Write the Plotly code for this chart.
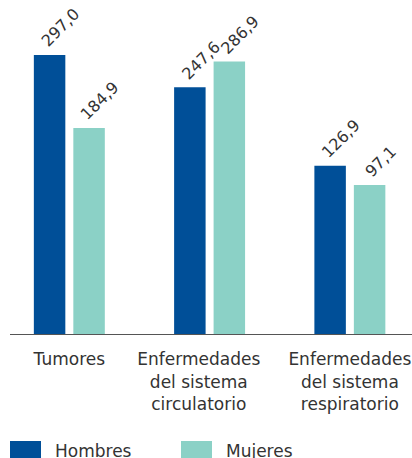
import plotly.graph_objects as go

NB = "\u00a0" * 4
categories = ["Tumores",
              f"Enfermedades{NB}<br>del sistema{NB}<br>circulatorio{NB}",
              "Enfermedades<br>del sistema<br>respiratorio"]
hombres = [297.0, 247.6, 126.9]
mujeres = [184.9, 286.9, 97.1]
series_names = ["Hombres", "Mujeres"]
colors = ["#004f98", "#8bd1c6"]

Y0 = -131.6   # value at the baseline of the chart
Y1 = 366.1

def fmt(v):
    return f"{v:.1f}".replace(".", ",")

FONT = "DejaVu Sans"
TXT = "#333333"

fig = go.Figure()
for name, vals, col in zip(series_names, [hombres, mujeres], colors):
    fig.add_trace(go.Bar(
        x=categories, y=[v - Y0 for v in vals], base=Y0, name=name,
        marker=dict(color=col, line=dict(width=0)),
        showlegend=False, hoverinfo="skip",
    ))

fig.update_layout(
    width=412, height=458,
    margin=dict(l=10, r=0, t=10, b=124),
    paper_bgcolor="white", plot_bgcolor="white",
    barmode="group", bargap=0.437, bargroupgap=0.2025,
    font=dict(family=FONT, size=17, color=TXT),
    xaxis=dict(type="category", range=[-0.423, 2.443], showline=True, linecolor="#555555",
               linewidth=1, showgrid=False, ticks="", ticklabelstandoff=10,
               tickfont=dict(size=17, color=TXT)),
    yaxis=dict(range=[Y0, Y1], visible=False, showgrid=False, zeroline=False),
)

# value labels above each bar (half a bar slot to the left/right of the category)
for vals, dx in zip([hombres, mujeres], [-19.75, 19.75]):
    for cat, v in zip(categories, vals):
        fig.add_annotation(x=cat, y=v, xref="x", yref="y", text=fmt(v), showarrow=False,
                           textangle=-45, xanchor="center", yanchor="bottom",
                           xshift=dx + 11, yshift=4, borderpad=0, borderwidth=0,
                           font=dict(family=FONT, size=16, color=TXT))

# legend drawn as swatches + labels
leg_x = [0.0, 0.4254]
for name, col, x0 in zip(series_names, colors, leg_x):
    fig.add_shape(type="rect", xref="paper", yref="paper", x0=x0, x1=x0 + 0.0771,
                  y0=-0.395, y1=-0.3302, fillcolor=col, line=dict(width=0))
    fig.add_annotation(xref="paper", yref="paper", x=x0 + 0.107, y=-0.361, text=name,
                       showarrow=False, xanchor="left", yanchor="middle",
                       font=dict(family=FONT, size=17, color=TXT))

fig.write_html("out.html", config={"displayModeBar": False},
               post_script="document.body.style.margin='0';document.body.style.overflow='hidden';")
